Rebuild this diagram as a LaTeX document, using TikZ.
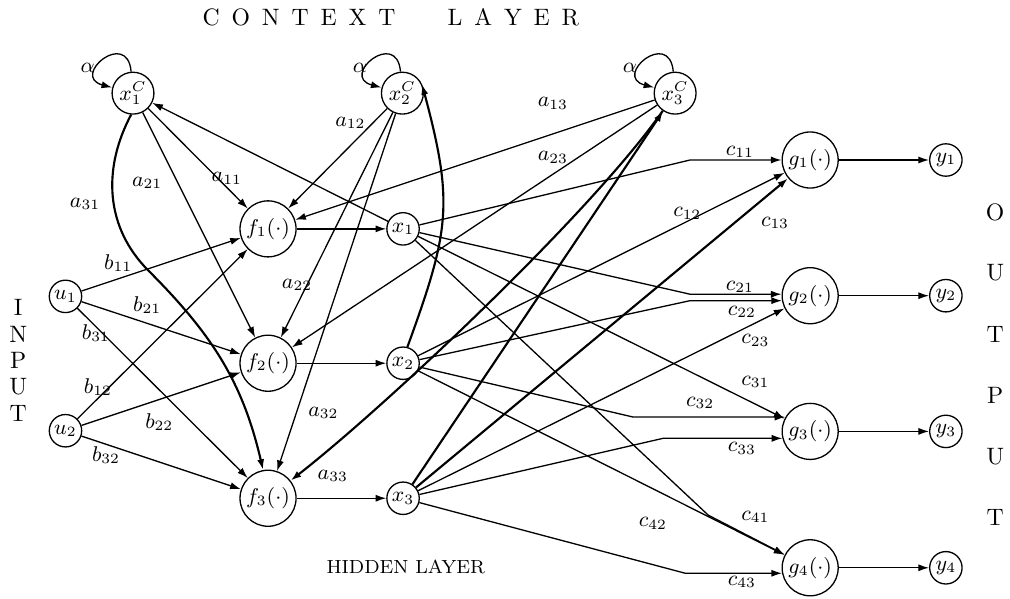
\documentclass[tikz,border=0pt]{standalone}
\usetikzlibrary{arrows.meta}
\begin{document}
\begin{tikzpicture}[
  >={Latex[length=4.5pt,width=3pt]},
  line width=0.55pt,
  every node/.style={font=\small},
  funcnode/.style={circle, draw, minimum size=0.83cm, inner sep=0pt},
  unitnode/.style={circle, draw, minimum size=0.48cm, inner sep=0pt},
  ctxnode/.style={circle, draw, minimum size=0.62cm, inner sep=0pt},
  feedback/.style={->, line width=0.9pt},
  layertext/.style={font=\normalsize, inner sep=0pt}
]
\useasboundingbox (0,0) rectangle (14.96,8.86);

% context layer
\node[ctxnode] (x1C) at (1.97,7.48) {$x_1^C$};
\node[ctxnode] (x2C) at (5.96,7.48) {$x_2^C$};
\node[ctxnode] (x3C) at (10.0,7.48) {$x_3^C$};

% inputs, hidden layer, outputs
\node[unitnode] (u1) at (0.97,4.47) {$u_1$};
\node[unitnode] (u2) at (0.97,2.48) {$u_2$};

\node[funcnode] (f1) at (3.97,5.47) {$f_1(\cdot)$};
\node[funcnode] (f2) at (3.97,3.48) {$f_2(\cdot)$};
\node[funcnode] (f3) at (3.97,1.48) {$f_3(\cdot)$};

\node[unitnode] (x1) at (5.97,5.47) {$x_1$};
\node[unitnode] (x2) at (5.97,3.48) {$x_2$};
\node[unitnode] (x3) at (5.97,1.48) {$x_3$};

\node[funcnode] (g1) at (12.0,6.49) {$g_1(\cdot)$};
\node[funcnode] (g2) at (12.0,4.48) {$g_2(\cdot)$};
\node[funcnode] (g3) at (12.0,2.47) {$g_3(\cdot)$};
\node[funcnode] (g4) at (12.0,0.45) {$g_4(\cdot)$};

\node[unitnode] (y1) at (14.01,6.49) {$y_1$};
\node[unitnode] (y2) at (14.01,4.48) {$y_2$};
\node[unitnode] (y3) at (14.01,2.47) {$y_3$};
\node[unitnode] (y4) at (14.01,0.45) {$y_4$};

% layer titles
\node[layertext] (ctxtitle) at (5.79,8.6) {C\hspace{0.5em}O\hspace{0.5em}N\hspace{0.5em}T\hspace{0.5em}E\hspace{0.5em}X\hspace{0.5em}T\hspace{2.2em}L\hspace{0.5em}A\hspace{0.5em}Y\hspace{0.5em}E\hspace{0.5em}R};
\node[font=\footnotesize, inner sep=0pt] (hidtitle) at (6.01,0.46) {HIDDEN LAYER};
\foreach \ch [count=\i from 0] in {I,N,P,U,T}
  \node[layertext] (in\i) at (0.27,{4.30-0.39*\i}) {\ch};
\foreach \ch [count=\i from 0] in {O,U,T,P,U,T}
  \node[layertext] (out\i) at (14.74,{5.72-0.905*\i}) {\ch};

% self loops
\foreach \c in {x1C,x2C,x3C}
  \draw[->] (\c) to[out=95,in=165,looseness=4.5] (\c);
\node (al1) at (1.30,7.85) {$\alpha$};
\node (al2) at (5.33,7.85) {$\alpha$};
\node (al3) at (9.33,7.85) {$\alpha$};

% hidden and output maps
\draw[->] (f1) -- (x1);
\draw[->] (f2) -- (x2);
\draw[->] (f3) -- (x3);
\draw[->] (g1) -- (y1);
\draw[->] (g2) -- (y2);
\draw[->] (g3) -- (y3);
\draw[->] (g4) -- (y4);

% input weights
\foreach \i in {1,2,3} {
  \draw[->] (u1) -- (f\i);
  \draw[->] (u2) -- (f\i);
}
\node (lb11) at (1.75,4.96) {$b_{11}$};
\node (lb21) at (2.18,4.34) {$b_{21}$};
\node (lb31) at (1.42,3.93) {$b_{31}$};
\node (lb12) at (1.45,3.13) {$b_{12}$};
\node (lb22) at (2.36,2.61) {$b_{22}$};
\node (lb32) at (1.57,2.12) {$b_{32}$};

% context weights
\coordinate (k31) at (2.2,4.85);
\draw[->] (x1C) -- (f1);
\draw[->] (x1C) -- (f2);
\draw[->, line width=0.9pt] (x1C.-95) to[out=-118,in=135] (k31) to[out=-45,in=103] (f3.100);
\draw[->] (x2C) -- (f1);
\draw[->] (x2C) -- (f2);
\draw[->] (x2C) -- (f3);
\draw[->] (x3C) -- (f1);
\draw[->] (x3C) -- (f2);
\draw[->, line width=0.9pt] (x3C) to[out=-125,in=38,looseness=0.6] (f3);
\node (la11) at (3.36,6.22) {$a_{11}$};
\node (la21) at (2.18,6.15) {$a_{21}$};
\node (la31) at (1.26,5.84) {$a_{31}$};
\node (la12) at (5.19,7.04) {$a_{12}$};
\node (la22) at (4.40,4.64) {$a_{22}$};
\node (la32) at (4.79,2.74) {$a_{32}$};
\node (la13) at (8.19,7.33) {$a_{13}$};
\node (la23) at (8.19,6.53) {$a_{23}$};
\node (la33) at (4.93,1.81) {$a_{33}$};

% feedback to context
\draw[->] (x1) -- (x1C);
\draw[feedback] (x2.75) to[out=70,in=-75,looseness=1.2] (x2C.25);
\draw[feedback] (x3) -- (x3C);

% output weights
\coordinate (k11) at (g1.west -| 10.22,0);
\coordinate (k21) at (g2.177 -| 10.22,0);
\coordinate (k22) at (g2.190 -| 10.22,0);
\coordinate (k32) at (g3.150 -| 9.38,0);
\coordinate (k33) at (g3.194 -| 9.82,0);
\coordinate (k41) at (10.49,1.23);
\coordinate (k43) at (g4.191 -| 10.15,0);
\draw[->] (x1) -- (k11) -- (g1.west);
\draw[->] (x1) -- (k21) -- (g2.177);
\draw[->] (x1) -- (g3);
\draw[->] (x1) -- (k41) -- (g4);
\draw[->] (x2) -- (g1);
\draw[->] (x2) -- (k22) -- (g2.190);
\draw[->] (x2) -- (k32) -- (g3.150);
\draw[->] (x2) -- (g4);
\draw[->, line width=0.9pt] (x3) -- (g1);
\draw[->] (x3) -- (g2);
\draw[->] (x3) -- (k33) -- (g3.194);
\draw[->] (x3) -- (k43) -- (g4.191);
\node (lc11) at (10.96,6.61) {$c_{11}$};
\node (lc12) at (10.18,5.70) {$c_{12}$};
\node (lc13) at (11.48,5.56) {$c_{13}$};
\node (lc21) at (10.96,4.61) {$c_{21}$};
\node (lc22) at (10.99,4.24) {$c_{22}$};
\node (lc23) at (11.19,3.82) {$c_{23}$};
\node (lc31) at (11.19,3.20) {$c_{31}$};
\node (lc32) at (10.37,2.89) {$c_{32}$};
\node (lc33) at (10.99,2.22) {$c_{33}$};
\node (lc41) at (11.19,1.20) {$c_{41}$};
\node (lc42) at (9.67,1.11) {$c_{42}$};
\node (lc43) at (10.99,0.24) {$c_{43}$};

\end{tikzpicture}
\end{document}
